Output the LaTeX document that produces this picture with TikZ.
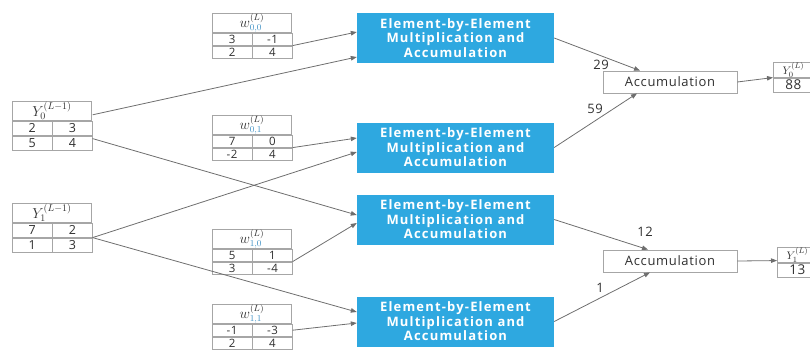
\documentclass[tikz,border=0pt]{standalone}
\usepackage{fontspec}
\setmainfont{Open Sans}[LetterSpace=5.0]
\newfontfamily\opfont{Open Sans}[LetterSpace=9.0]
\usepackage{tikz}
\usepackage{xcolor}
\usetikzlibrary{arrows.meta,positioning,calc}
\definecolor{opblue}{HTML}{2EA8E0}
\definecolor{wire}{HTML}{6E6E6E}
\definecolor{grid}{HTML}{A6A6A6}
\definecolor{txt}{HTML}{303030}
\definecolor{subblue}{HTML}{3B8FC4}
\tikzset{
  opbox/.style={fill=opblue,draw=none,minimum width=197pt,minimum height=50pt,
                inner sep=0pt,align=center,text=white,
                font=\opfont\bfseries\fontsize{13}{14.5}\selectfont},
  accbox/.style={draw=grid,fill=white,line width=0.8pt,
                 minimum width=134pt,minimum height=22pt,inner sep=0pt,
                 font=\fontsize{13}{14}\selectfont,text=txt},
  headcell/.style={draw=grid,fill=white,line width=0.8pt,minimum width=79pt,inner sep=0pt,text=txt},
  valcell/.style={draw=grid,fill=white,line width=0.8pt,minimum width=39.5pt,inner sep=0pt,text=txt},
  yhead/.style={minimum height=19pt,font=\fontsize{14}{15}\selectfont},
  yrow/.style={minimum height=14pt,font=\fontsize{12.5}{13}\selectfont},
  whead/.style={minimum height=19pt,font=\fontsize{13.5}{14}\selectfont},
  wrow/.style={minimum height=12pt,font=\fontsize{11.5}{12}\selectfont},
  outhead/.style={draw=grid,fill=white,line width=0.8pt,minimum width=40pt,minimum height=10pt,
                  inner sep=0pt,text=txt,font=\fontsize{11}{11}\selectfont},
  outrow/.style={draw=grid,fill=white,line width=0.8pt,minimum width=40pt,minimum height=14pt,
                 inner sep=0pt,text=txt,font=\fontsize{13.5}{14}\selectfont},
  wirearr/.style={-{Triangle[length=6pt,width=4.5pt]},draw=wire,line width=0.8pt},
  numlbl/.style={font=\fontsize{13}{14}\selectfont,text=txt,inner sep=0pt}
}
% #1 style prefix, #2 name, #3,#4 top left, #5 label, #6-#9 values
\newcommand{\fmap}[9]{%
  \node[headcell,#1head,anchor=north west] (#2h) at (#3,#4) {#5};
  \node[valcell,#1row,anchor=north west] (#2a) at (#2h.south west) {#6};
  \node[valcell,#1row,anchor=north west] (#2b) at (#2a.north east) {#7};
  \node[valcell,#1row,anchor=north west] (#2c) at (#2a.south west) {#8};
  \node[valcell,#1row,anchor=north west] (#2d) at (#2c.north east) {#9};
}
\newcommand{\wlabel}[1]{$w^{(L)}_{\textcolor{subblue}{#1}}$}

\begin{document}
\begin{tikzpicture}[x=1pt,y=-1pt]
  \useasboundingbox (0,0) rectangle (810,349);
  \clip (0,0) rectangle (810,349);

  % input feature maps and weights
  \fmap{y}{y0}{12}{101}{$Y_0^{(L-1)}$}{2}{3}{5}{4}
  \fmap{y}{y1}{12}{203}{$Y_1^{(L-1)}$}{7}{2}{1}{3}
  \fmap{w}{w00}{212}{13}{\wlabel{0,0}}{3}{-1}{2}{4}
  \fmap{w}{w01}{212}{115}{\wlabel{0,1}}{7}{0}{-2}{4}
  \fmap{w}{w10}{212}{229}{\wlabel{1,0}}{5}{1}{3}{-4}
  \fmap{w}{w11}{212}{304}{\wlabel{1,1}}{-1}{-3}{2}{4}

  % multiply units
  \node[opbox] (m00) at (455.5,38)    {Element-by-Element\\Multiplication and\\Accumulation};
  \node[opbox] (m01) at (455.5,147.5) {Element-by-Element\\Multiplication and\\Accumulation};
  \node[opbox] (m10) at (455.5,219.5) {Element-by-Element\\Multiplication and\\Accumulation};
  \node[opbox] (m11) at (455.5,321.5) {Element-by-Element\\Multiplication and\\Accumulation};

  \draw[wirearr] (w00b.south east) -- ([yshift=6pt]m00.west);
  \draw[wirearr] ([yshift=6pt]y0b.north east) -- ([yshift=-19pt]m00.west);
  \draw[wirearr] (w01b.south east) -- ([yshift=9.5pt]m01.west);
  \draw[wirearr] (y1b.south east) -- ([yshift=-4.5pt]m01.west);
  \draw[wirearr] ([yshift=-3pt]y0d.north east) -- ([yshift=4.5pt]m10.west);
  \draw[wirearr] (w10b.south east) -- ([yshift=-3.5pt]m10.west);
  \draw[wirearr] (y1b.south east) -- ([yshift=9.5pt]m11.west);
  \draw[wirearr] (w11b.east) -- ([yshift=-1.5pt]m11.west);

  % accumulation and outputs
  \node[accbox] (acc0) at (670,82)  {Accumulation};
  \node[accbox] (acc1) at (670,261) {Accumulation};

  \draw[wirearr] (m00.east) -- ([xshift=-30pt]acc0.north);
  \draw[wirearr] (m01.east) -- ([xshift=-33pt]acc0.south);
  \draw[wirearr] (m10.east) -- ([xshift=-22pt]acc1.north);
  \draw[wirearr] (m11.east) -- ([xshift=-20pt]acc1.south);
  \node[numlbl] (l29) at (601,65)  {29};
  \node[numlbl] (l59) at (595,109) {59};
  \node[numlbl] (l12) at (645,232) {12};
  \node[numlbl] (l1)  at (600,288) {1};

  \node[outhead,anchor=north west] (y0Lh) at (773,62) {$Y_0^{(L)}$};
  \node[outrow,anchor=north west] (y0Lv) at (y0Lh.south west) {88};
  \node[outhead,anchor=north west] (y1Lh) at (777,247) {$Y_1^{(L)}$};
  \node[outrow,anchor=north west] (y1Lv) at (y1Lh.south west) {13};

  \draw[wirearr] (acc0.east) -- (y0Lh.south west);
  \draw[wirearr] (acc1.east) -- ([yshift=2pt]y1Lh.south west);
\end{tikzpicture}
\end{document}
